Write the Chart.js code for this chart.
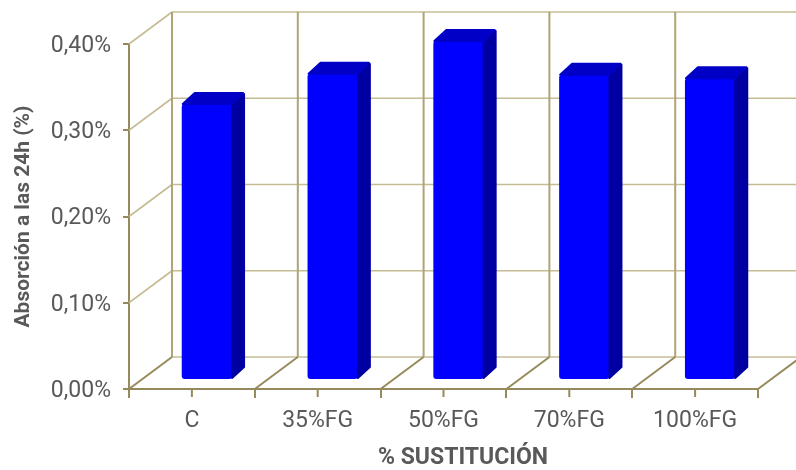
<!DOCTYPE html>
<html>
<head>
<meta charset="utf-8">
<script src="https://cdn.jsdelivr.net/npm/chart.js@4/dist/chart.umd.min.js"></script>
<style>
  html, body { margin: 0; padding: 0; background: #ffffff; }
  canvas { display: block; }
</style>
</head>
<body>
<canvas id="chart" width="796" height="470"></canvas>
<script>
// Data
const categories = ['C', '35%FG', '50%FG', '70%FG', '100%FG'];
const absorption = [0.32, 0.355, 0.393, 0.354, 0.350];   // % water absorption at 24 h
const yTicks = [0, 0.1, 0.2, 0.3, 0.4];
const xTitle = '% SUSTITUCIÓN';
const yTitle = 'Absorción a las 24h (%)';

// Styling
const TEXT = '#595959';
const AXIS = '#968a5c';
const WALL = '#c6bc94';
const WALL_V = '#aea476';
const FONT = 'Roboto';
const DEPTH = { dx: 43, dy: -32 };      // floor / back wall depth
const BAR_SHIFT = { dx: 15, dy: -9 };   // bars sit in the middle of the floor depth
const BAR_DEPTH = { dx: 12, dy: -11 };  // thickness of each column

function seg(ctx, x1, y1, x2, y2) {
  ctx.beginPath(); ctx.moveTo(x1, y1); ctx.lineTo(x2, y2); ctx.stroke();
}

const box3d = {
  id: 'box3d',
  beforeDatasetsDraw(chart) {
    const { ctx, chartArea: a, scales: { x, y } } = chart;
    const n = categories.length;
    const cw = (a.right - a.left) / n;
    ctx.save();
    ctx.lineCap = 'butt';
    // left wall diagonals
    ctx.strokeStyle = WALL; ctx.lineWidth = 1.6;
    yTicks.forEach(v => {
      if (v === 0) return;
      const py = y.getPixelForValue(v);
      seg(ctx, a.left, py, a.left + DEPTH.dx, py + DEPTH.dy);
    });
    // back wall horizontals
    yTicks.forEach(v => {
      const py = y.getPixelForValue(v) + DEPTH.dy;
      seg(ctx, a.left + DEPTH.dx, py, a.right + DEPTH.dx, py);
    });
    // back wall verticals at category boundaries
    ctx.strokeStyle = WALL_V; ctx.lineWidth = 2;
    const top = y.getPixelForValue(0.4) + DEPTH.dy;
    const bot = y.getPixelForValue(0) + DEPTH.dy;
    for (let i = 0; i <= n; i++) {
      const bx = a.left + i * cw + DEPTH.dx;
      seg(ctx, bx, top, bx, bot);
    }
    // floor diagonals
    ctx.strokeStyle = AXIS; ctx.lineWidth = 2;
    const y0 = y.getPixelForValue(0);
    for (let i = 0; i <= n; i++) {
      const bx = a.left + i * cw;
      seg(ctx, bx, y0, bx + DEPTH.dx, y0 + DEPTH.dy);
    }
    ctx.restore();
    // columns are drawn one depth step behind the front plane
    ctx.save();
    ctx.translate(BAR_SHIFT.dx, BAR_SHIFT.dy);
  },
  afterDatasetsDraw(chart) {
    const { ctx } = chart;
    const meta = chart.getDatasetMeta(0);
    ctx.lineJoin = 'round';
    meta.data.forEach(bar => {
      const { x, y, base, width } = bar.getProps(['x', 'y', 'base', 'width'], true);
      const l = x - width / 2, r = x + width / 2;
      // side face
      ctx.fillStyle = '#0000a2'; ctx.strokeStyle = '#0000a2'; ctx.lineWidth = 2;
      ctx.beginPath();
      ctx.moveTo(r, y + 1);
      ctx.lineTo(r + BAR_DEPTH.dx, y + BAR_DEPTH.dy + 1);
      ctx.lineTo(r + BAR_DEPTH.dx, base + BAR_DEPTH.dy - 1);
      ctx.lineTo(r, base - 1);
      ctx.closePath(); ctx.fill(); ctx.stroke();
      // top face
      ctx.fillStyle = '#0000c6'; ctx.strokeStyle = '#0000c6';
      ctx.beginPath();
      ctx.moveTo(l + 1, y);
      ctx.lineTo(l + 1 + BAR_DEPTH.dx, y + BAR_DEPTH.dy);
      ctx.lineTo(r + BAR_DEPTH.dx - 1, y + BAR_DEPTH.dy);
      ctx.lineTo(r, y);
      ctx.closePath(); ctx.fill(); ctx.stroke();
    });
    ctx.restore();
  },
  afterDraw(chart) {
    const { ctx, chartArea: a, scales: { x } } = chart;
    ctx.save();
    // tick marks under each category centre
    ctx.strokeStyle = AXIS; ctx.lineWidth = 2;
    categories.forEach((c, i) => {
      const px = x.getPixelForValue(i);
      seg(ctx, px, a.bottom, px, a.bottom + 8);
    });
    // x-axis title
    ctx.fillStyle = TEXT;
    ctx.font = 'bold 23px ' + FONT;
    ctx.textAlign = 'center'; ctx.textBaseline = 'middle';
    ctx.fillText(xTitle, 463, 458);
    ctx.restore();
  }
};

new Chart(document.getElementById('chart'), {
  type: 'bar',
  data: {
    labels: categories,
    datasets: [{
      data: absorption,
      backgroundColor: '#0000ff',
      borderWidth: 0,
      borderRadius: 3,
      borderSkipped: false,
      barPercentage: 0.4,
      categoryPercentage: 1,
      clip: false
    }]
  },
  options: {
    responsive: false,
    devicePixelRatio: 1,
    animation: false,
    layout: { padding: { left: 0, top: 44, right: 38, bottom: 0 } },
    plugins: { legend: { display: false }, tooltip: { enabled: false } },
    scales: {
      x: {
        type: 'category',
        offset: true,
        grid: { offset: true, drawOnChartArea: false, drawTicks: true, tickLength: 9, color: AXIS, lineWidth: 2 },
        border: { display: true, color: AXIS, width: 2 },
        ticks: { color: TEXT, font: { family: FONT, size: 23 }, padding: 9, maxRotation: 0, autoSkip: false },
        afterFit: s => { s.height = 81; }
      },
      y: {
        min: 0, max: 0.4,
        afterBuildTicks: s => { s.ticks = yTicks.map(v => ({ value: v })); },
        grid: { drawOnChartArea: false, drawTicks: true, tickLength: 6, color: AXIS, lineWidth: 2 },
        border: { display: true, color: AXIS, width: 2 },
        ticks: {
          color: TEXT, font: { family: FONT, size: 23 }, padding: 12, labelOffset: 2,
          callback: v => v.toFixed(2).replace('.', ',') + '%'
        },
        title: {
          display: true, text: yTitle, color: TEXT,
          font: { family: FONT, size: 21, weight: 'bold' }, padding: { top: 11, bottom: 0 }
        },
        afterFit: s => { s.width = 129; }
      }
    }
  },
  plugins: [box3d]
});
</script>
</body>
</html>
